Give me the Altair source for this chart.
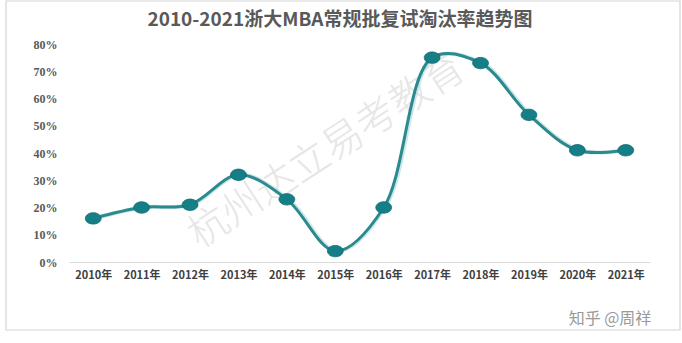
import altair as alt
import pandas as pd

years = ["2010年", "2011年", "2012年", "2013年", "2014年", "2015年",
         "2016年", "2017年", "2018年", "2019年", "2020年", "2021年"]
rates = [0.16, 0.20, 0.21, 0.32, 0.23, 0.04, 0.20, 0.75, 0.73, 0.54, 0.41, 0.41]
title_text = "2010-2021浙大MBA常规批复试淘汰率趋势图"
watermark = "杭州达立易考教育"
credit = "知乎 @周祥"

df = pd.DataFrame({"year": years, "rate": rates})
one = pd.DataFrame({"k": [0]})

x = alt.X("year:N", sort=years, title=None,
          scale=alt.Scale(paddingInner=0, paddingOuter=0.5),
          axis=alt.Axis(labelAngle=0, labelFont="Noto Sans CJK SC", labelFontWeight="bold",
                        labelFontSize=11, labelColor="#404040", labelPadding=7,
                        ticks=False, domainColor="#d9d9d9", domainWidth=1.2))
y = alt.Y("rate:Q", title=None,
          scale=alt.Scale(domain=[0, 0.8], nice=False),
          axis=alt.Axis(format=".0%", values=[i / 10 for i in range(9)], grid=False,
                        domain=False, ticks=False, labelFont="Liberation Serif",
                        labelFontWeight="bold", labelFontSize=12, labelColor="#595959",
                        labelPadding=12))

frame = alt.Chart(one).mark_rect(fillOpacity=0, fill="white", stroke="#d4d4d4",
                                 strokeWidth=1.2).encode(
    x=alt.value(-63), x2=alt.value(611), y=alt.value(-43), y2=alt.value(286))

title = alt.Chart(one).mark_text(text=title_text, font="Noto Sans CJK SC", fontSize=19,
                                 fontWeight="bold", color="#595959", align="center",
                                 baseline="middle").encode(
    x=alt.value(271), y=alt.value(-24))

wm = alt.Chart(one).mark_text(text=watermark, font="Noto Sans CJK SC", fontWeight=300,
                              fontSize=40, color="#d2d2d2", opacity=0.55, angle=327).encode(
    x=alt.value(258), y=alt.value(108))

shadow = alt.Chart(df).mark_line(interpolate="catmull-rom", color="#9ccfd2",
                                 strokeWidth=4, opacity=0.5).encode(
    x=x, y=y, xOffset=alt.value(1.5))

line = alt.Chart(df).mark_line(interpolate="catmull-rom", color="#2a8a8e",
                               strokeWidth=3).encode(x=x, y=y)

ellipse = "M-1,0 A1,0.72 0 1,0 1,0 A1,0.72 0 1,0 -1,0 Z"
pts = alt.Chart(df).mark_point(shape=ellipse, filled=True, size=250, color="#167e86",
                               opacity=1, stroke="#0f6b72", strokeWidth=0.8).encode(x=x, y=y)

cr = alt.Chart(one).mark_text(text=credit, font="Noto Sans CJK SC", fontSize=16,
                              color="#9a9a9a").encode(x=alt.value(541), y=alt.value(275))

chart = alt.layer(frame, title, wm, shadow, line, pts, cr).properties(
    width=581, height=218,
    autosize=alt.AutoSizeParams(type="none"),
    padding={"left": 69, "top": 44, "right": 32, "bottom": 81},
).configure(background="white").configure_view(stroke=None, strokeWidth=0)

chart.save("out.html", embed_options={"renderer": "svg", "actions": False})
